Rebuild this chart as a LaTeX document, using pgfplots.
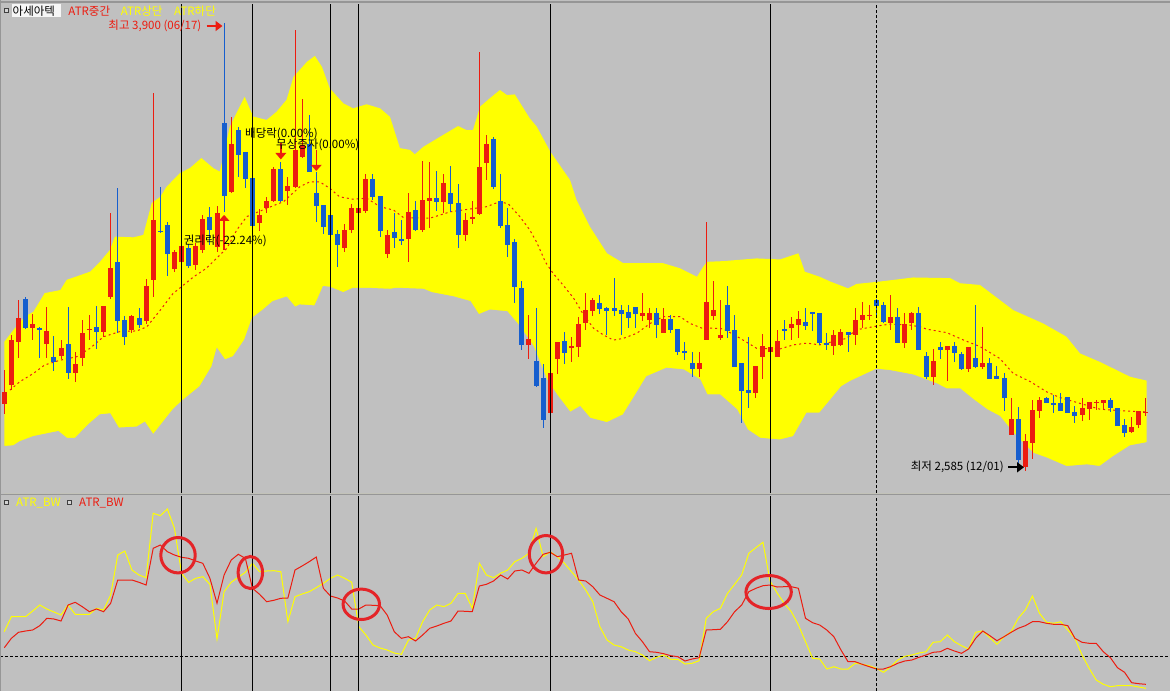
\documentclass[border=0pt]{standalone}
\usepackage{fontspec}
\setmainfont{Noto Sans CJK KR}
\usepackage{pgfplots}
\usepackage{pgfplotstable}
\pgfplotsset{compat=1.18}
\usetikzlibrary{arrows.meta}
\definecolor{bg}{RGB}{192,192,192}
\definecolor{cred}{RGB}{236,28,16}
\definecolor{cblue}{RGB}{22,94,206}
\definecolor{cyel}{RGB}{255,255,0}
\definecolor{circ}{RGB}{228,36,40}
\definecolor{frame}{RGB}{150,150,150}

\pgfplotstableread{
i o h l c
0 2781 2881 2752 2816
1 2837 2984 2822 2969
2 2963 3087 2916 3034
4 3004 3046 2969 3016
6 2958 3066 2916 2996
8 2922 2969 2913 2946
10 2872 2934 2846 2899
11 2916 3028 2893 2990
12 2999 3043 2969 3003
14 2993 3069 2978 3069
15 3096 3342 3090 3181
18 2999 3043 2990 3040
20 3025 3148 3016 3128
21 3146 3695 3096 3322
24 3178 3234 3169 3228
25 3198 3257 3193 3245
27 3190 3254 3175 3245
28 3234 3337 3225 3325
30 3243 3363 3228 3342
32 3404 3625 3401 3545
36 3313 3354 3290 3337
37 3357 3390 3342 3378
38 3378 3478 3375 3472
40 3407 3448 3366 3422
41 3419 3880 3416 3528
42 3507 3678 3505 3542
48 3240 3310 3228 3293
49 3293 3369 3284 3357
50 3342 3369 3334 3357
51 3348 3457 3342 3442
54 3222 3293 3210 3278
57 3265 3401 3198 3345
59 3293 3495 3287 3381
60 3378 3492 3298 3387
62 3375 3457 3342 3431
65 3278 3342 3260 3322
66 3325 3378 3310 3331
67 3340 3816 3337 3478
68 3490 3572 3440 3545
74 2955 3043 2913 2972
77 2755 2872 2755 2872
78 2913 2963 2869 2963
80 2946 2978 2905 2952
81 2949 3037 2919 3016
82 3019 3108 2999 3057
83 3054 3093 3040 3087
90 3040 3108 3025 3049
91 3028 3063 3004 3049
93 2990 3063 2990 3031
98 2884 2934 2860 2902
99 2969 3316 2969 3081
100 3040 3143 3028 3057
101 2975 3087 2969 2984
106 2813 2893 2799 2893
107 2919 2987 2855 2952
108 2934 2955 2925 2949
109 2919 2999 2919 2966
111 3004 3037 2969 3016
112 3013 3054 2975 3031
117 2952 2999 2925 2984
118 2955 3001 2952 2993
120 2984 3063 2955 3028
121 3028 3081 3004 3043
122 3041 3072 3028 3044
125 3019 3101 2999 3037
127 2960 3049 2946 3016
128 3019 3052 2999 3049
131 2860 2943 2837 2908
133 2940 2952 2849 2952
136 2884 2949 2875 2949
138 2890 3007 2884 2902
142 2690 2799 2690 2737
144 2596 2693 2585 2672
145 2667 2793 2620 2764
146 2761 2802 2740 2793
152 2749 2799 2731 2770
153 2767 2787 2734 2787
154 2785 2793 2764 2788
155 2784 2793 2767 2793
159 2699 2743 2696 2714
160 2720 2761 2711 2761
161 2756 2799 2746 2759
}\redcandles

\pgfplotstableread{
i o h l c
3 3090 3096 3001 3004
5 3004 3007 2916 2999
7 2919 2981 2878 2905
9 2958 3066 2855 2872
13 3007 3069 2943 2993
16 3198 3416 2990 3025
17 3028 3040 2955 2978
19 3034 3063 3004 3013
22 3290 3419 3284 3287
23 3307 3316 3157 3222
26 3240 3251 3181 3187
29 3331 3360 3248 3293
31 3607 3900 3345 3392
33 3586 3595 3448 3513
34 3522 3522 3416 3442
35 3445 3446 3293 3304
39 3472 3492 3375 3378
43 3545 3630 3463 3463
44 3401 3463 3316 3363
45 3366 3366 3281 3301
46 3337 3337 3263 3278
47 3281 3293 3184 3248
52 3442 3457 3381 3390
53 3392 3393 3272 3290
55 3287 3342 3240 3269
56 3266 3322 3248 3260
58 3351 3378 3290 3293
61 3387 3466 3348 3375
63 3401 3481 3345 3369
64 3372 3428 3240 3278
69 3560 3566 3413 3419
70 3378 3457 3298 3304
71 3307 3357 3213 3248
72 3257 3266 3078 3125
73 3122 3143 2940 2955
75 2908 3063 2831 2834
76 2858 2899 2711 2734
79 2966 2993 2899 2931
84 3078 3102 3046 3060
85 3063 3066 2984 3054
86 3063 3152 3040 3054
87 3057 3072 2984 3046
88 3052 3072 3004 3034
89 3066 3066 3004 3046
92 3049 3063 2975 3013
94 3031 3043 2990 2999
95 3002 3002 2925 2934
96 2936 2963 2911 2932
97 2902 2934 2861 2884
102 3072 3128 2975 2996
103 2999 3043 2890 2890
104 2902 2902 2725 2819
105 2822 2978 2769 2814
110 3001 3028 2969 2996
113 3022 3063 2999 3010
114 3052 3052 2996 3046
115 3049 3049 2955 2961
116 2960 2990 2940 2957
119 2993 2993 2934 2984
123 3087 3090 3037 3069
124 3072 3081 3019 3022
126 3037 3063 2960 2960
129 3049 3066 2940 2940
130 2922 2934 2855 2861
132 2949 2963 2913 2940
134 2952 2963 2905 2931
135 2928 2934 2881 2884
137 2916 3072 2887 2890
139 2902 2916 2855 2855
140 2864 2893 2855 2855
141 2858 2872 2761 2799
143 2737 2772 2602 2617
147 2799 2802 2784 2784
148 2784 2808 2755 2778
149 2784 2814 2761 2761
150 2802 2802 2755 2755
151 2758 2775 2725 2746
156 2793 2799 2758 2770
157 2770 2770 2717 2717
158 2720 2737 2684 2696
}\bluecandles

\pgfplotstableread{
i p
0 2964
1.3 2999
2.9 3038
4.1 3052
5.7 3107
7.9 3116
8.8 3146
12.1 3170
13.5 3199
14.9 3234
15.6 3273
18.2 3271
19.6 3278
20.1 3317
20.8 3372
22.0 3390
22.9 3420
24.8 3460
26.2 3475
27.8 3504
29.5 3474
30.4 3464
31.8 3596
33.9 3684
35.1 3626
37.0 3616
38.4 3640
39.8 3675
40.8 3743
42.7 3787
43.8 3804
44.8 3772
45.9 3709
47.8 3665
49.2 3650
51.1 3662
53.0 3650
54.4 3625
55.8 3533
57.2 3528
57.9 3515
59.1 3537
61.5 3567
64.0 3598
65.2 3586
66.1 3586
67.1 3655
68.5 3680
69.9 3704
70.9 3689
72.0 3691
74.1 3621
75.1 3596
77.0 3523
79.8 3439
80.7 3381
82.6 3302
85.0 3224
87.3 3195
92.9 3195
95.3 3180
97.7 3155
98.6 3185
99.1 3199
101.4 3201
106.1 3209
109.4 3206
112.0 3224
112.9 3170
115.0 3155
116.5 3141
119.0 3121
120.2 3134
123.5 3141
128.2 3153
133.4 3151
134.8 3136
137.6 3131
142.3 3057
146.5 3018
149.8 2979
151.7 2930
154.5 2905
158.8 2861
161.1 2850
}\upperband

\pgfplotstableread{
i p
0 2656
1.3 2658
2.2 2670
4.1 2685
7.6 2700
8.8 2680
10.0 2680
12.1 2724
13.5 2749
14.9 2752
16.1 2710
18.7 2713
19.8 2727
21.0 2690
23.8 2764
25.0 2788
27.6 2832
29.3 2891
30.0 2943
31.1 2910
32.3 2920
33.9 2969
35.0 3033
36.5 3057
37.9 3082
39.8 3095
41.0 3065
41.7 3072
43.8 3069
45.0 3126
45.9 3124
47.8 3108
49.2 3121
51.1 3121
54.4 3118
55.3 3121
59.1 3118
60.3 3108
63.3 3096
65.7 3082
66.9 3043
68.5 3057
70.9 3052
72.7 3008
74.6 2950
76.5 2852
77.9 2808
79.8 2756
81.2 2773
82.6 2739
85.0 2726
87.3 2749
89.2 2813
90.6 2861
93.4 2886
95.8 2881
98.1 2852
99.1 2808
100.9 2808
103.3 2764
104.8 2705
106.6 2680
109.4 2675
111.3 2685
113.2 2754
115.0 2754
118.1 2832
119.3 2847
123.0 2883
124.9 2879
128.2 2866
131.5 2840
132.9 2825
134.8 2825
136.7 2793
138.6 2764
140.4 2744
142.3 2695
145.1 2636
147.0 2622
149.8 2597
152.7 2602
154.5 2597
156.4 2626
158.8 2658
161.1 2667
}\lowerband

\pgfplotstableread{
i p
0.8 2822
2.2 2847
4.1 2871
5.7 2896
7.9 2910
10.2 2920
12.1 2945
14.0 2979
16.3 2994
18.7 2996
20.1 3008
22.0 3057
23.8 3106
25.0 3126
26.7 3155
28.5 3180
30.4 3219
31.4 3239
32.8 3293
34.2 3332
37.0 3356
39.4 3376
41.7 3420
43.1 3434
44.5 3434
45.9 3415
47.3 3390
49.2 3383
51.1 3386
53.0 3361
54.9 3351
56.3 3329
60.0 3327
62.9 3346
68.0 3361
69.9 3376
71.1 3369
72.7 3332
74.1 3293
75.1 3256
76.3 3199
77.4 3165
78.8 3131
80.3 3092
81.7 3043
83.1 3004
84.5 2984
85.9 2969
87.3 2974
89.2 2989
91.1 3018
92.9 3038
95.3 3038
96.7 3018
98.4 3004
100.0 3004
101.4 3002
103.8 2974
106.1 2945
109.4 2943
111.3 2955
113.2 2960
115.0 2955
118.8 2974
120.1 2999
123.0 3010
124.9 3016
127.7 3013
129.2 3008
130.1 3001
132.9 2991
135.3 2969
137.6 2950
140.4 2915
142.3 2871
144.7 2847
147.0 2817
148.9 2800
151.7 2783
154.5 2766
157.8 2761
161.1 2758
}\midband

\pgfplotstableread{
i v
0 59.3
1 74.3
2 74.3
3 74.3
4 80
5 86
6 82
7 79
8 76
9 86
10 76.7
11 76.7
12 76.7
13 82.7
14 81
15 96
16 136
17 140
18 121
19 116
20 113.3
21 177.7
22 175.3
23 182
24 162.7
25 117.7
26 108.7
27 112.7
28 114.3
29 106.7
30 52
31 99.3
32 108.7
33 113.7
34 118.7
35 127.7
36 119.3
37 120
38 120.3
39 119.3
40 69.3
41 94.3
42 97
43 99.3
44 103.3
45 107.7
46 112.7
47 116
48 112.7
49 108.7
50 64.3
51 56
52 46
53 43
54 41
55 38
56 36.7
57 51
58 52.7
59 69.3
60 81
61 86
62 84.3
63 87.7
64 97.7
65 97.7
66 82.7
67 127.7
68 116
69 113.3
70 117.7
71 121
72 129.3
73 132.7
74 137.7
75 162.7
76 134.3
77 139.3
78 134.3
79 127.7
80 119.3
81 111
82 101
83 89.3
84 64.3
85 51
86 46
87 44.3
88 41
89 39.3
90 36
91 30.3
92 33.7
93 36
94 31.7
95 31.7
96 27
97 27.7
98 30.3
99 72.7
100 79.3
101 82.7
102 97.7
103 106.7
104 116
105 137.7
106 143.3
107 148.7
108 110
109 98
110 87.7
111 79.3
112 66
113 49.3
114 32.7
115 32
116 22
117 24.3
118 22
119 22
120 27.7
121 26.7
122 25.3
123 22.7
124 18.7
125 24
126 31
127 34.7
128 36
129 38
130 39.3
131 48.7
132 49.3
133 56
134 49.3
135 45.3
136 42
137 58.7
138 60
139 53.3
140 46.7
141 54.3
142 59.3
143 72.7
144 81
145 95
146 77.7
147 68.7
148 67.7
149 69.3
150 61
151 52.7
152 36
153 22.7
154 11
155 6.7
156 4.3
157 5.3
158 5.3
159 5.3
160 4
161 2.7
}\bwyellow

\pgfplotstableread{
i v
0 43.3
1 52.7
2 58.7
3 60
4 61
5 65.3
6 72.7
7 72
8 70
9 86
10 88.7
11 84.3
12 79.3
13 82
14 79.3
15 87.7
16 111
17 111
18 111
19 108.7
20 106
21 142.7
22 146
23 139.3
24 136
25 133.7
26 132.7
27 130
28 127.7
29 112.7
30 87.7
31 116
32 131
33 136.7
34 132.7
35 102.7
36 96.7
37 89.3
38 90.7
39 92.7
40 93
41 121
42 125
43 129.3
44 134
45 102.7
46 95
47 93
48 90
49 82
50 82
51 86
52 85.7
53 85.3
54 76
55 59.3
56 52.7
57 54.3
58 50
59 56
60 62.7
61 65
62 67.7
63 70
64 80
65 79.7
66 79.3
67 105
68 106.7
69 110
70 116
71 112
72 120
73 121
74 117.7
75 127.7
76 136.7
77 138.7
78 134.3
79 136
80 137.7
81 111
82 110
83 104.3
84 96
85 92.7
86 89.3
87 79.3
88 72
89 57.7
90 49.3
91 39.3
92 38.7
93 37.3
94 35.3
95 34.3
96 30
97 32
98 33.3
99 61
100 61.3
101 61.7
102 69.3
103 79.3
104 86
105 99.3
106 102.7
107 105.3
108 106
109 104
110 104.3
111 104.3
112 102.7
113 72.7
114 68.3
115 66
116 61
117 54.3
118 41
119 29.3
120 29.3
121 26.7
122 24.3
123 22
124 22
125 24.3
126 27.7
127 30
128 31
129 33.7
130 36
131 38.7
132 39.3
133 42.7
134 40
135 37.7
136 42
137 52.7
138 60
139 55.3
140 50.3
141 54.3
142 58.7
143 62.7
144 65.3
145 69.3
146 69.3
147 67.7
148 66.7
149 66.7
150 65.3
151 52.7
152 48.7
153 47.7
154 47.7
155 39.3
156 33.3
157 23.3
158 18.7
159 8.3
160 7.3
161 6.7
}\bwred

\pgfplotsset{
  wick/.style={draw=none, mark=none, forget plot, error bars/.cd, y dir=both, y explicit, error mark=none, error bar style={draw=#1, line width=1bp, solid}},
  body/.style={draw=none, mark=none, forget plot, error bars/.cd, y dir=both, y explicit, error mark=none, error bar style={draw=#1, line width=5bp, solid}},
}

\begin{document}
\begin{tikzpicture}
\fill[bg] (0,0) rectangle (1170bp,-691bp);

\begin{axis}[at={(0bp,-4bp)}, anchor=north west, scale only axis,
  width=1170bp, height=489bp, xmin=-0.6065, xmax=164.41,
  ymin=2519.6, ymax=3956.7, hide axis]
  % ATR band: yellow under the upper band, then grey under the lower band
  \addplot[fill=cyel, draw=none, forget plot] table[x=i,y=p] \upperband \closedcycle;
  \addplot[fill=bg, draw=bg, line width=1.2bp, forget plot] table[x=i,y=p] \lowerband \closedcycle;
  \addplot[cred, line width=1bp, dash pattern=on 2bp off 3bp] table[x=i,y=p] \midband;
  \addplot[wick=cred] table[x=i, y expr={(\thisrow{h}+\thisrow{l})/2}, y error expr={(\thisrow{h}-\thisrow{l})/2}] \redcandles;
  \addplot[body=cred] table[x=i, y expr={(\thisrow{o}+\thisrow{c})/2}, y error expr={(\thisrow{c}-\thisrow{o})/2}] \redcandles;
  \addplot[wick=cblue] table[x=i, y expr={(\thisrow{h}+\thisrow{l})/2}, y error expr={(\thisrow{h}-\thisrow{l})/2}] \bluecandles;
  \addplot[body=cblue] table[x=i, y expr={(\thisrow{o}+\thisrow{c})/2}, y error expr={(\thisrow{o}-\thisrow{c})/2}] \bluecandles;
  % event markers
  \draw[cred, line width=1.5bp] (axis cs:31,3234) -- (axis cs:31,3319);
  \fill[cred] (axis cs:31,3337) -- ([xshift=-5.5bp]axis cs:31,3319) -- ([xshift=5.5bp]axis cs:31,3319) -- cycle;
  \draw[cred, line width=1.5bp] (axis cs:39,3548) -- (axis cs:39,3519);
  \fill[cred] (axis cs:39,3500) -- ([xshift=-5.5bp]axis cs:39,3519) -- ([xshift=5.5bp]axis cs:39,3519) -- cycle;
  \draw[cred, line width=1.5bp] (axis cs:44,3528) -- (axis cs:44,3484);
  \fill[cred] (axis cs:44,3466) -- ([xshift=-5.5bp]axis cs:44,3484) -- ([xshift=5.5bp]axis cs:44,3484) -- cycle;
  % vertical lines
  \pgfplotsinvokeforeach{25,35,46,50,77,108}{\draw[black, line width=1bp] (axis cs:#1,2519.6) -- (axis cs:#1,3956.7);}
  \draw[black, line width=1bp, dash pattern=on 3bp off 2bp] (axis cs:123,2519.6) -- (axis cs:123,3956.7);
\end{axis}

\begin{axis}[at={(0bp,-496bp)}, anchor=north west, scale only axis,
  width=1170bp, height=195bp, xmin=-0.6065, xmax=164.41,
  ymin=0, ymax=195, hide axis]
  \draw[black, line width=1bp, dash pattern=on 3bp off 2bp] (axis cs:-0.6065,34.7) -- (axis cs:164.41,34.7);
  \addplot[cyel, line width=1bp] table[x=i,y=v] \bwyellow;
  \addplot[cred, line width=1bp] table[x=i,y=v] \bwred;
  \pgfplotsinvokeforeach{25,35,46,50,77,108}{\draw[black, line width=1bp] (axis cs:#1,0) -- (axis cs:#1,195);}
  \draw[black, line width=1bp, dash pattern=on 3bp off 2bp] (axis cs:123,0) -- (axis cs:123,195);
  \draw[circ, line width=3bp] (axis cs:24.5,135.8) ellipse [x radius=17.2bp, y radius=17.7bp];
  \draw[circ, line width=3bp] (axis cs:34.7,118.5) ellipse [x radius=12.2bp, y radius=16bp];
  \draw[circ, line width=3bp] (axis cs:50.35,86.7) ellipse [x radius=18.2bp, y radius=15.2bp];
  \draw[circ, line width=3bp] (axis cs:76.4,136.8) ellipse [x radius=16.7bp, y radius=18.7bp];
  \draw[circ, line width=3bp] (axis cs:107.8,99) ellipse [x radius=22.7bp, y radius=16.5bp];
\end{axis}

\begin{scope}[x=1bp, y=-1bp, every node/.style={inner sep=0pt, font=\fontsize{11.5bp}{13bp}\selectfont}]
  \draw[frame, line width=1.2bp] (0,2) -- (1170,2);
  \draw[frame, line width=1bp] (0.5,0) -- (0.5,691);
  \draw[frame, line width=1.5bp] (0,494.5) -- (1170,494.5);
  % legend top
  \draw[gray!50!black, fill=bg!70!white, line width=0.7bp] (4,8) rectangle (8.5,12.5);
  \fill[white!85!bg] (12,4) rectangle (60.7,17.3);
  \node[anchor=base west] at (12.5,15.5) {아세아텍};
  \node[anchor=base west, text=cred] at (68.3,15.7) {ATR중간};
  \node[anchor=base west, text=cyel] at (120.7,15.7) {ATR상단};
  \node[anchor=base west, text=cyel] at (174,15.7) {ATR하단};
  % annotations
  \node[anchor=base west, text=cred] at (108.3,29.8) {최고 3,900 (06/17)};
  \draw[cred, line width=2bp, -{Triangle[length=7bp,width=10bp]}] (206.7,26) -- (222.5,26);
  \node[anchor=base west] at (245,137) {배당락(0.00\%)};
  \node[anchor=base west] at (276,148) {무상증자(0.00\%)};
  \node[anchor=base west] at (183.7,244) {권리락(-22.24\%)};
  \node[anchor=base west] at (910.7,470.5) {최저 2,585 (12/01)};
  \draw[black, line width=2bp, -{Triangle[length=7bp,width=10bp]}] (1008,467.3) -- (1024,467.3);
  % legend bottom
  \draw[gray!50!black, fill=bg!70!white, line width=0.7bp] (4,500) rectangle (8.5,504.5);
  \node[anchor=base west, text=cyel] at (16,506.7) {ATR\_BW};
  \draw[gray!50!black, fill=bg!70!white, line width=0.7bp] (67.3,500) rectangle (71.8,504.5);
  \node[anchor=base west, text=cred] at (79,506.7) {ATR\_BW};
\end{scope}
\pgfresetboundingbox
\path (0,0) rectangle (1170bp,-691bp);
\end{tikzpicture}
\end{document}
